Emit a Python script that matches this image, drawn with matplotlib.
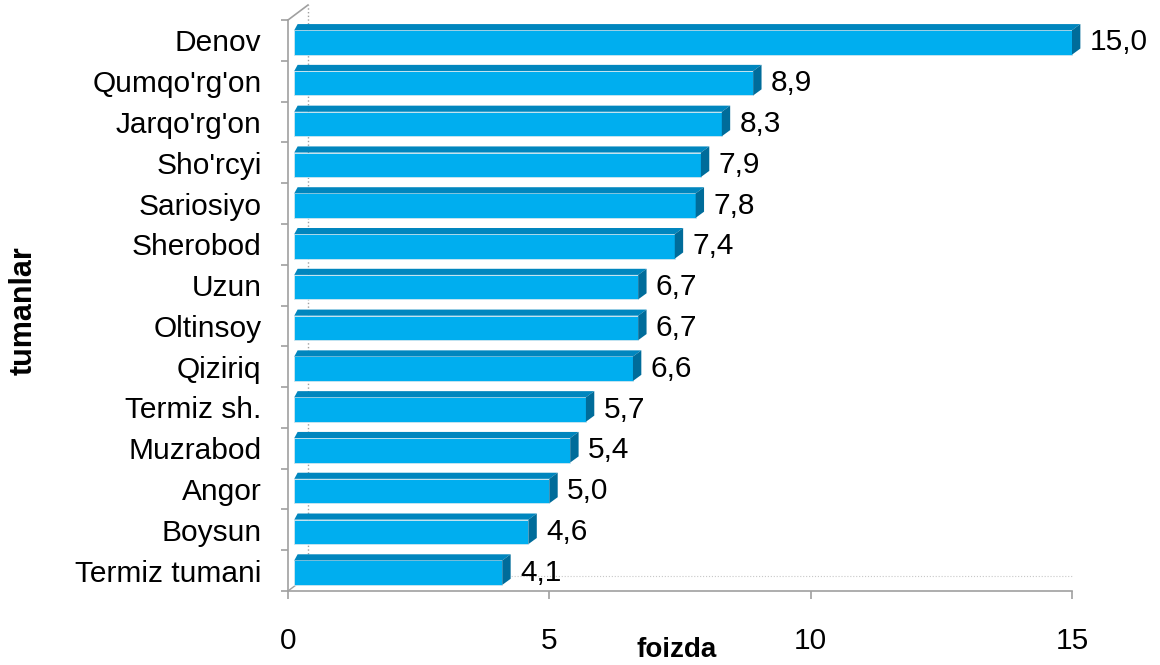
import matplotlib.pyplot as plt
from matplotlib.patches import Polygon

plt.rcParams['font.family'] = ['Liberation Sans', 'DejaVu Sans']

districts = ['Denov', "Qumqo'rg'on", "Jarqo'rg'on", "Sho'rcyi", 'Sariosiyo', 'Sherobod',
             'Uzun', 'Oltinsoy', 'Qiziriq', 'Termiz sh.', 'Muzrabod', 'Angor', 'Boysun',
             'Termiz tumani']
values = [15.0, 8.9, 8.3, 7.9, 7.8, 7.4, 6.7, 6.7, 6.6, 5.7, 5.4, 5.0, 4.6, 4.1]
xticks = [0, 5, 10, 15]

front = '#00AEEF'
top_c = '#0086BE'
side_c = '#006C9A'
wall = '#A0A0A0'
fs = 21.5

fig = plt.figure(figsize=(11.6, 6.65), dpi=100)
W, H = 1160, 665
ax = fig.add_axes([288 / W, (665 - 591) / H, (1072 - 288) / W, (591 - 20) / H])

n = len(districts)
ypos = [n - 1 - i for i in range(n)]
bh = 0.6     # front face height
dx = 0.16    # depth offsets in data units
dy = 0.15
x0 = 0.12

for y, v in zip(ypos, values):
    b = y - bh / 2 - 0.05
    t = b + bh
    bars = ax.barh(b + bh / 2, v - x0, height=bh, left=x0, color=front,
                   edgecolor='#CFE6F0', linewidth=0.6, zorder=3)
    for p in bars:
        p.set_clip_on(False)
    ax.add_patch(Polygon([(x0, t), (v, t), (v + dx, t + dy), (x0 + dx * 0.4, t + dy)],
                         closed=True, facecolor=top_c, edgecolor='none', zorder=3,
                         clip_on=False))
    ax.add_patch(Polygon([(v, b), (v, t), (v + dx, t + dy), (v + dx, b + dy)],
                         closed=True, facecolor=side_c, edgecolor='none', zorder=3,
                         clip_on=False))
    ax.text(v + dx + 0.18, b + bh / 2, f'{v:.1f}'.replace('.', ','),
            va='center', ha='left', fontsize=fs, color='black')

ax.set_xlim(0, 15)
ax.set_ylim(-0.5, n - 0.5)

ax.set_xticks(xticks)
ax.set_xticklabels([str(t) for t in xticks], fontsize=fs)
ax.set_yticks(ypos)
ax.set_yticklabels(districts, fontsize=fs)
ax.set_yticks([k - 0.5 for k in range(n + 1)], minor=True)

ax.tick_params(axis='y', which='major', length=0, pad=19)
ax.tick_params(axis='y', which='minor', length=5, color=wall, width=1.2)
ax.tick_params(axis='x', which='major', length=6, color=wall, width=1.2, pad=20)

for s in ['top', 'right']:
    ax.spines[s].set_visible(False)
for s in ['left', 'bottom']:
    ax.spines[s].set_color(wall)
    ax.spines[s].set_linewidth(1.2)

# back wall / floor perspective lines (axes coordinates)
ox = 20 / (1072 - 288)
oy = 15 / (591 - 20)
ax.plot([0, ox], [1, 1 + oy], color=wall, lw=1.2, transform=ax.transAxes, clip_on=False)
ax.plot([ox, ox], [oy, 1 + oy], color=wall, lw=1.0, ls=':', transform=ax.transAxes,
        clip_on=False, zorder=1)
ax.plot([0, ox], [0, oy], color=wall, lw=1.0, transform=ax.transAxes, clip_on=False)
ax.plot([ox, 1], [oy, oy], color='#C8C8C8', lw=0.8, ls=':', transform=ax.transAxes,
        clip_on=False, zorder=1)

fig.text(677 / W, 1 - 650 / H, 'foizda', ha='center', va='center', fontsize=20,
         fontweight='bold')
fig.text(24 / W, 1 - 311 / H, 'tumanlar', ha='center', va='center', fontsize=22,
         fontweight='bold', rotation=90)

fig.savefig('out.png', dpi=100)
